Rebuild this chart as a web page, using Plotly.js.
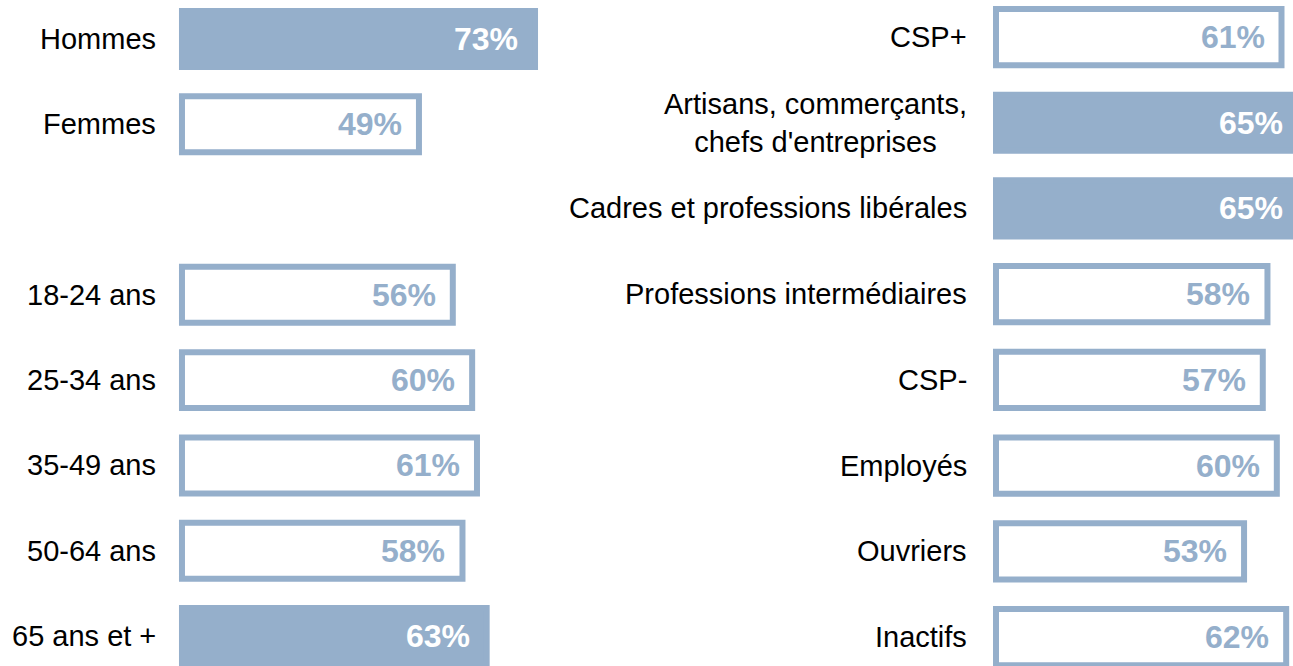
<!DOCTYPE html>
<html><head><meta charset="utf-8">
<script src="https://cdn.plot.ly/plotly-3.0.1.min.js"></script>
<style>html,body{margin:0;padding:0;overflow:hidden;background:#fff}</style>
</head><body><div id="chart" style="width:1310px;height:666px"></div>
<script>
// ---- data ----
const leftCategories = ["Hommes", "Femmes", "18-24 ans", "25-34 ans", "35-49 ans", "50-64 ans", "65 ans et +"];
const leftValues = [73, 49, 56, 60, 61, 58, 63];
const leftHighlighted = [true, false, false, false, false, false, true];
const leftRowOrder = ["Hommes", "Femmes", "_gap", "18-24 ans", "25-34 ans", "35-49 ans", "50-64 ans", "65 ans et +"];

const rightCategories = ["CSP+", "Artisans, commerçants,<br>chefs d'entreprises", "Cadres et professions libérales",
  "Professions intermédiaires", "CSP-", "Employés", "Ouvriers", "Inactifs"];
const rightValues = [61, 65, 65, 58, 57, 60, 53, 62];
const rightHighlighted = [false, true, true, false, false, false, false, false];

// ---- style ----
const BLUE = "#95AFCB";
const FONT = "Liberation Sans, Arial, Helvetica, sans-serif";

function barTrace(cats, vals, hl, xa, ya) {
  return {
    type: "bar", orientation: "h",
    x: vals, y: cats, xaxis: xa, yaxis: ya,
    width: 0.656,
    marker: { color: hl.map(h => h ? BLUE : "#ffffff"), line: { color: BLUE, width: 6 } },
    hoverinfo: "skip", showlegend: false
  };
}

const annotations = [];
function addLabels(cats, vals, hl, xref, yref, labelShift) {
  cats.forEach((c, i) => {
    annotations.push({
      xref: xref, yref: yref, x: 0, y: c, text: c, showarrow: false,
      xanchor: "right", yanchor: "middle", xshift: labelShift, align: "center",
      font: { family: FONT, size: 29, color: "#000000" }
    });
    annotations.push({
      xref: xref, yref: yref, x: vals[i], y: c, text: "<b>" + vals[i] + "%</b>", showarrow: false,
      xanchor: "right", yanchor: "middle", xshift: -15,
      font: { family: FONT, size: 32, color: hl[i] ? "#ffffff" : BLUE }
    });
  });
}
addLabels(leftCategories, leftValues, leftHighlighted, "x", "y", -24);
addLabels(rightCategories, rightValues, rightHighlighted, "x2", "y2", -27);

const hidden = { showgrid: false, zeroline: false, showticklabels: false, ticks: "", showline: false, fixedrange: true };

const layout = {
  width: 1310, height: 666,
  margin: { l: 0, r: 0, t: 0, b: 0, pad: 0 },
  paper_bgcolor: "#ffffff", plot_bgcolor: "#ffffff",
  showlegend: false,
  xaxis: Object.assign({}, hidden, { domain: [0, 0.5], range: [-37.63, 97.81], anchor: "y" }),
  yaxis: Object.assign({}, hidden, { type: "category", categoryorder: "array", categoryarray: leftRowOrder,
    range: [7.352, -0.457], anchor: "x" }),
  xaxis2: Object.assign({}, hidden, { domain: [0.5, 1], range: [-72.86, 67.09], anchor: "y2" }),
  yaxis2: Object.assign({}, hidden, { type: "category", categoryorder: "array", categoryarray: rightCategories,
    range: [7.338, -0.432], anchor: "x2" }),
  annotations: annotations
};

Plotly.newPlot("chart", [
  barTrace(leftCategories, leftValues, leftHighlighted, "x", "y"),
  barTrace(rightCategories, rightValues, rightHighlighted, "x2", "y2")
], layout, { staticPlot: true, displayModeBar: false });
</script>
</body></html>
